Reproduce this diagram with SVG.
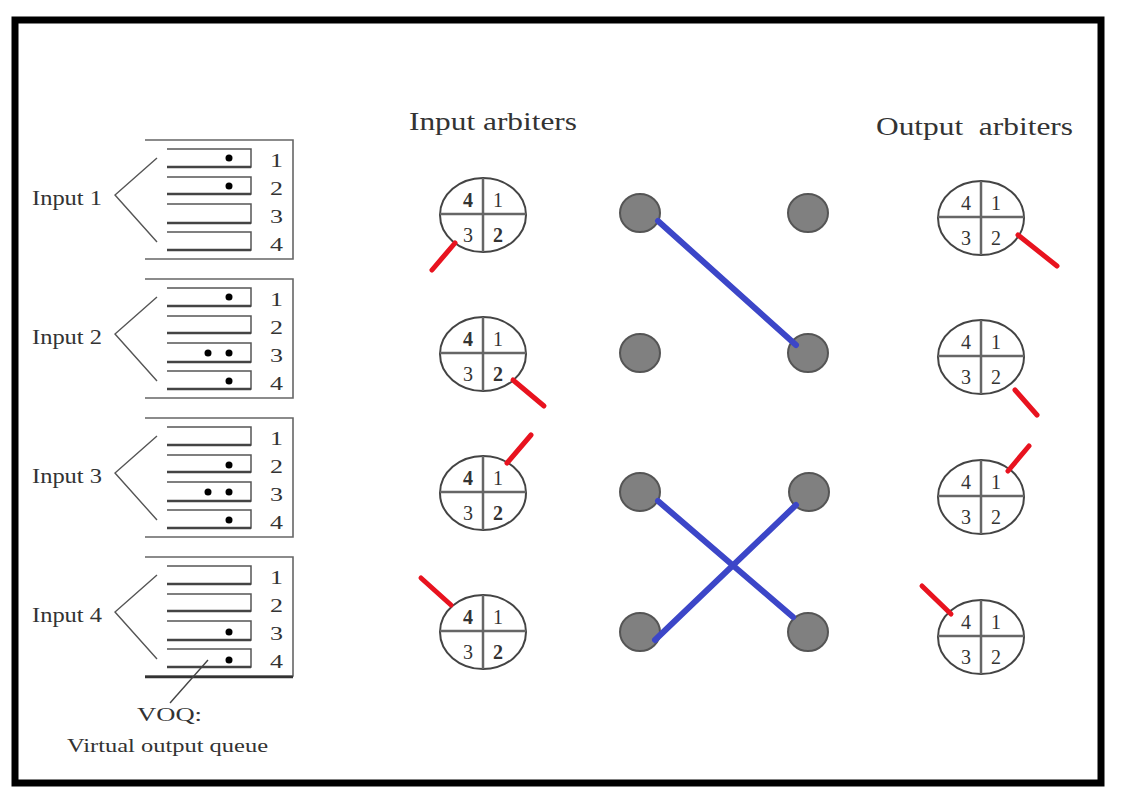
<svg xmlns="http://www.w3.org/2000/svg" width="1124" height="804" viewBox="0 0 1124 804">
<style>
text{font-family:"Liberation Serif","Times New Roman",serif;fill:#333}
.lbl{font-size:21px}
.num{font-size:19px}
.title{font-size:25px}
.an{font-size:20px;text-anchor:middle}
.b{font-weight:bold}
.blk{fill:none;stroke:#666;stroke-width:1.6}
.q{fill:none;stroke:#555;stroke-width:1.5}
.qb{stroke:#444;stroke-width:2.6}
.chev{fill:none;stroke:#555;stroke-width:1.4}
.arb{fill:#fff;stroke:#444;stroke-width:2}
.cross{stroke:#666;stroke-width:2.5}
.dot{fill:#000}
.node{fill:#808080;stroke:#555;stroke-width:2}
.red{stroke:#e8131f;stroke-width:5;stroke-linecap:round}
.blue{stroke:#3c46c8;stroke-width:6;stroke-linecap:round}
</style>
<defs>
<g id="queues">
<path class="blk" d="M145,0 H293 V119 H145"/>
<path class="chev" d="M157,18 L115,55 L157,102"/>
<path class="q" d="M167,9 H251 V27 H167"/><line class="qb" x1="167" y1="27" x2="251" y2="27"/>
<path class="q" d="M167,37 H251 V54 H167"/><line class="qb" x1="167" y1="54" x2="251" y2="54"/>
<path class="q" d="M167,64 H251 V83 H167"/><line class="qb" x1="167" y1="83" x2="251" y2="83"/>
<path class="q" d="M167,92 H251 V110 H167"/><line class="qb" x1="167" y1="110" x2="251" y2="110"/>
<text class="num" x="270" y="27" textLength="13" lengthAdjust="spacingAndGlyphs">1</text>
<text class="num" x="270" y="55" textLength="13" lengthAdjust="spacingAndGlyphs">2</text>
<text class="num" x="270" y="83" textLength="13" lengthAdjust="spacingAndGlyphs">3</text>
<text class="num" x="270" y="111" textLength="13" lengthAdjust="spacingAndGlyphs">4</text>
</g>
<g id="arbIn">
<ellipse class="arb" cx="0" cy="0" rx="43" ry="37"/>
<line class="cross" x1="0" y1="-37" x2="0" y2="37"/>
<line class="cross" x1="-43" y1="-1" x2="43" y2="-1"/>
<text class="an b" x="-15" y="-8">4</text>
<text class="an" x="15" y="-8">1</text>
<text class="an" x="-15" y="27">3</text>
<text class="an b" x="15" y="27">2</text>
</g>
<g id="arbOut">
<ellipse class="arb" cx="0" cy="0" rx="43" ry="37"/>
<line class="cross" x1="0" y1="-37" x2="0" y2="37"/>
<line class="cross" x1="-43" y1="-1" x2="43" y2="-1"/>
<text class="an" x="-15" y="-8">4</text>
<text class="an" x="15" y="-8">1</text>
<text class="an" x="-15" y="27">3</text>
<text class="an" x="15" y="27">2</text>
</g>
</defs>
<rect x="0" y="0" width="1124" height="804" fill="#fff"/>
<rect x="15" y="20" width="1086" height="763" fill="none" stroke="#000" stroke-width="7"/>

<g id="input1">
<use href="#queues" transform="translate(0,140)"/>
<text class="lbl" x="32" y="205" textLength="70" lengthAdjust="spacingAndGlyphs">Input 1</text>
<circle class="dot" cx="229" cy="158" r="3.5"/>
<circle class="dot" cx="229" cy="186" r="3.5"/>
</g>
<g id="input2">
<use href="#queues" transform="translate(0,279)"/>
<text class="lbl" x="32" y="344" textLength="70" lengthAdjust="spacingAndGlyphs">Input 2</text>
<circle class="dot" cx="229" cy="297" r="3.5"/>
<circle class="dot" cx="208" cy="353" r="3.5"/>
<circle class="dot" cx="229" cy="353" r="3.5"/>
<circle class="dot" cx="229" cy="381" r="3.5"/>
</g>
<g id="input3">
<use href="#queues" transform="translate(0,418)"/>
<text class="lbl" x="32" y="483" textLength="70" lengthAdjust="spacingAndGlyphs">Input 3</text>
<circle class="dot" cx="229" cy="465" r="3.5"/>
<circle class="dot" cx="208" cy="492" r="3.5"/>
<circle class="dot" cx="229" cy="492" r="3.5"/>
<circle class="dot" cx="229" cy="520" r="3.5"/>
</g>
<g id="input4">
<use href="#queues" transform="translate(0,557)"/>
<line x1="145" y1="677" x2="293" y2="677" stroke="#333" stroke-width="2.6"/>
<text class="lbl" x="32" y="622" textLength="70" lengthAdjust="spacingAndGlyphs">Input 4</text>
<circle class="dot" cx="229" cy="632" r="3.5"/>
<circle class="dot" cx="229" cy="660" r="3.5"/>
</g>
<g id="voq">
<line x1="208" y1="660" x2="170" y2="703" stroke="#444" stroke-width="1.4"/>
<text class="lbl" x="137" y="721" style="font-size:19px" textLength="65" lengthAdjust="spacingAndGlyphs">VOQ:</text>
<text class="lbl" x="67" y="752" style="font-size:19px" textLength="201" lengthAdjust="spacingAndGlyphs">Virtual output queue</text>
</g>

<text class="title" x="409" y="130" textLength="168" lengthAdjust="spacingAndGlyphs">Input arbiters</text>
<text class="title" x="876" y="135" xml:space="preserve" textLength="197" lengthAdjust="spacingAndGlyphs">Output  arbiters</text>

<g id="inArb1"><use href="#arbIn" transform="translate(483,215)"/></g>
<g id="inArb2"><use href="#arbIn" transform="translate(483,354)"/></g>
<g id="inArb3"><use href="#arbIn" transform="translate(483,493)"/></g>
<g id="inArb4"><use href="#arbIn" transform="translate(483,632)"/></g>

<g id="outArb1"><use href="#arbOut" transform="translate(981,218)"/></g>
<g id="outArb2"><use href="#arbOut" transform="translate(981,357)"/></g>
<g id="outArb3"><use href="#arbOut" transform="translate(981,497)"/></g>
<g id="outArb4"><use href="#arbOut" transform="translate(981,637)"/></g>

<g id="xbarL1"><ellipse class="node" cx="640" cy="213" rx="20" ry="19"/></g>
<g id="xbarR1"><ellipse class="node" cx="808" cy="213" rx="20" ry="19"/></g>
<g id="xbarL2"><ellipse class="node" cx="640" cy="353" rx="20" ry="19"/></g>
<g id="xbarR2"><ellipse class="node" cx="808" cy="353" rx="20" ry="19"/></g>
<g id="xbarL3"><ellipse class="node" cx="640" cy="492" rx="20" ry="19"/></g>
<g id="xbarR3"><ellipse class="node" cx="809" cy="492" rx="20" ry="19"/></g>
<g id="xbarL4"><ellipse class="node" cx="640" cy="632" rx="20" ry="19"/></g>
<g id="xbarR4"><ellipse class="node" cx="808" cy="632" rx="20" ry="19"/></g>

<g id="connectors">
<line class="blue" x1="658" y1="221" x2="796" y2="345"/>
<line class="blue" x1="658" y1="501" x2="793" y2="617"/>
<line class="blue" x1="655" y1="640" x2="796" y2="505"/>
<line class="red" x1="455" y1="243" x2="432" y2="270"/>
<line class="red" x1="513" y1="380" x2="544" y2="406"/>
<line class="red" x1="507" y1="463" x2="531" y2="435"/>
<line class="red" x1="451" y1="605" x2="421" y2="578"/>
<line class="red" x1="1018" y1="235" x2="1057" y2="266"/>
<line class="red" x1="1015" y1="390" x2="1037" y2="415"/>
<line class="red" x1="1008" y1="471" x2="1029" y2="446"/>
<line class="red" x1="951" y1="614" x2="922" y2="586"/>
</g>
</svg>
